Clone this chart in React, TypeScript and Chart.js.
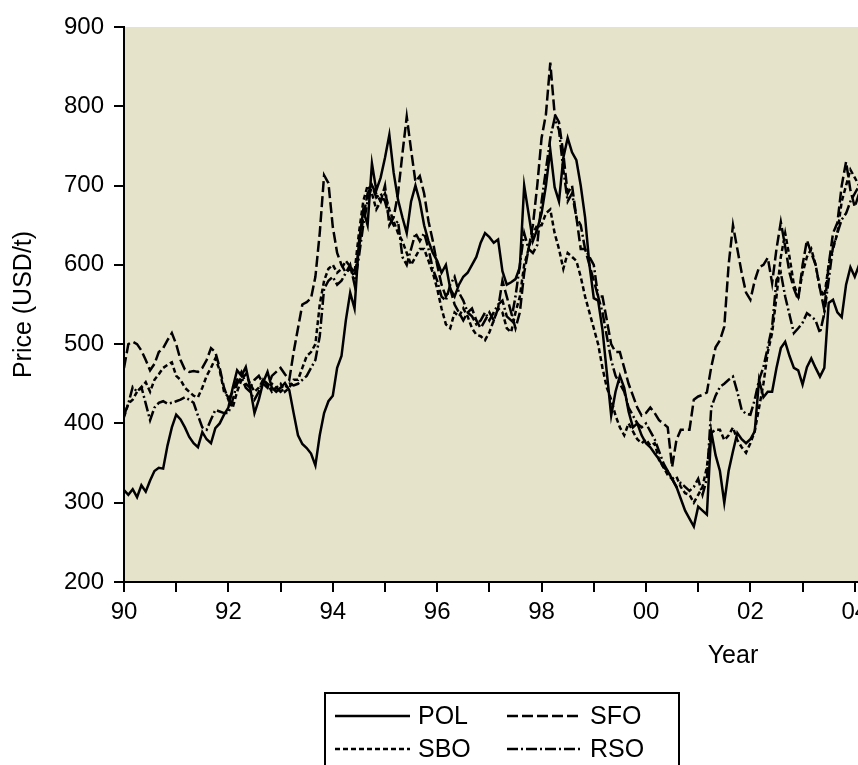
import React, { useEffect, useRef } from 'react';
import { Chart, registerables } from 'chart.js';

Chart.register(...registerables);

// ---- data (monthly, Jan 1990 onward) ----
const START_YEAR = 1990;
const X_MIN = 1990;
const X_MAX = 2004.33;
const Y_MIN = 200;
const Y_MAX = 900;
const Y_STEP = 100;
const SERIES_NAMES = ['POL', 'SFO', 'SBO', 'RSO'];

const POL = [
  316, 310, 317, 307, 322, 314, 328, 340, 344, 343, 372, 395,
  411, 405, 395, 383, 375, 370, 389, 380, 375, 394, 400, 411,
  420, 445, 467, 460, 471, 445, 413, 430, 452, 465, 445, 440,
  445, 451, 442, 413, 385, 374, 369, 362, 347, 385, 413, 428,
  435, 470, 485, 530, 565, 545, 628, 669, 650, 728, 694, 710,
  735, 764, 716, 682, 660, 640, 680, 700, 680, 650, 630, 615,
  605, 590, 600, 570, 560, 575, 585, 590, 600, 610, 628, 640,
  635, 628, 632, 592, 575, 578, 582, 597, 700, 665, 630, 645,
  665, 700, 745, 698, 680, 735, 760, 742, 732, 700, 660, 600,
  558, 555, 518, 464, 410, 440, 460, 445, 415, 395, 400, 385,
  375, 370, 362, 355, 345, 340, 330, 320, 305, 290, 280, 270,
  295, 290, 285, 390, 360, 340, 300, 340, 365, 388, 380, 375,
  380, 390, 455, 433, 440, 440, 470, 495, 503, 485, 470, 467,
  449, 471, 482, 470, 459, 470, 552, 556, 540, 534, 575, 597,
  585, 600, 610, 600,
];

const SFO = [
  470, 500, 503, 500, 492, 480, 467, 475, 490, 495, 505, 514,
  500, 480, 468, 465, 466, 465, 470, 480, 495, 490, 470, 445,
  430, 440, 455, 465, 450, 445, 455, 460, 450, 445, 460, 465,
  470, 462, 455, 490, 520, 550, 553, 558, 585, 640, 713, 703,
  648, 615, 600, 590, 595, 585, 620, 660, 690, 700, 690, 680,
  700, 650, 660, 690, 740, 787, 745, 705, 712, 690, 655, 630,
  600, 575, 560, 570, 550, 540, 530, 540, 545, 530, 520, 530,
  540, 530, 545, 580, 560, 540, 520, 540, 590, 620, 650, 700,
  760, 790, 855, 790, 780, 740, 690, 700, 660, 620, 620, 600,
  580, 560, 560, 530, 500, 490, 490, 470, 450, 435, 420, 410,
  413, 420, 413, 404, 400, 395, 345, 379, 392, 392, 392, 430,
  434, 436, 439, 471, 496, 505, 522, 600, 650, 620, 590, 565,
  556, 580, 597, 600, 609, 577, 620, 654, 623, 590, 570, 556,
  600, 631, 615, 600, 570, 543, 600, 640, 653, 700, 730, 694,
  673, 690, 700, 690,
];

const SBO = [
  408, 425, 430, 440, 445, 452, 440, 455, 462, 470, 474, 477,
  460, 455, 445, 440, 435, 433, 445, 460, 470, 482, 467, 440,
  433, 420, 440, 455, 462, 450, 440, 445, 455, 450, 440, 445,
  450, 440, 445, 455, 455, 470, 485, 490, 500, 550, 580, 595,
  600, 590, 595, 605, 598, 590, 640, 680, 700, 690, 670, 680,
  690, 670, 655, 640, 630, 615, 600, 610, 620, 620, 605, 590,
  570, 545, 525, 520, 540, 535, 545, 535, 520, 512, 510, 505,
  515, 530, 545, 540, 520, 515, 540, 560, 600, 620, 640, 650,
  650, 665, 670, 640, 620, 595, 615, 610, 605, 585, 560, 540,
  520, 500, 470, 445, 430, 410, 395, 385, 400, 390, 380, 375,
  380, 372, 375, 354, 345, 335, 330, 333, 320, 312, 310, 300,
  310, 320, 345, 388, 392, 392, 379, 385, 395, 379, 370, 363,
  375, 390, 420, 450, 490, 514, 560, 610, 640, 610, 575, 560,
  590, 610, 620, 600, 570, 560, 600, 620, 640, 680, 700, 720,
  710, 700, 690, 680,
];

const RSO = [
  410, 425, 446, 440, 446, 425, 404, 420, 426, 428, 425, 426,
  428, 430, 433, 430, 426, 410, 395, 392, 405, 417, 415, 413,
  413, 430, 450, 458, 445, 440, 430, 440, 455, 448, 450, 445,
  440, 445, 450, 448, 450, 455, 460, 470, 480, 510, 570, 580,
  585, 575, 580, 590, 600, 575, 610, 650, 680, 700, 685, 690,
  680, 660, 650, 655, 610, 600, 620, 640, 630, 640, 620, 595,
  580, 560, 555, 575, 585, 565, 555, 540, 535, 525, 530, 540,
  530, 540, 550, 555, 535, 530, 560, 600, 640, 620, 615, 625,
  680, 720, 760, 785, 770, 720, 680, 690, 660, 650, 620, 610,
  600, 560, 540, 510, 480, 460, 450, 440, 420, 410, 400, 395,
  400, 390, 380, 365, 350, 340, 330, 320, 325, 320, 315, 320,
  330, 310, 330, 420, 435, 446, 450, 455, 459, 440, 417, 412,
  411, 430, 455, 471, 496, 522, 581, 590, 560, 537, 514, 520,
  527, 539, 535, 530, 514, 539, 581, 623, 640, 657, 665, 680,
  690, 700, 705, 700,
];

const SERIES_VALUES = [POL, SFO, SBO, RSO];
const SERIES_DASH: number[][] = [[], [11, 4], [5, 3], [11, 3, 2, 3]];

const FONT = "'Liberation Sans', Arial, sans-serif";
const W = 880;
const H = 765;

const bgPlugin = {
  id: 'plotBg',
  beforeDraw(chart: any) {
    const { ctx, chartArea } = chart;
    ctx.save();
    ctx.fillStyle = '#e6e3cb';
    ctx.fillRect(chartArea.left, chartArea.top, chartArea.right - chartArea.left, chartArea.bottom - chartArea.top);
    ctx.restore();
  },
};

const extrasPlugin = {
  id: 'extras',
  afterDraw(chart: any) {
    const { ctx } = chart;
    ctx.save();
    // x-axis title
    ctx.fillStyle = '#000';
    ctx.font = `25px ${FONT}`;
    ctx.textAlign = 'center';
    ctx.textBaseline = 'middle';
    ctx.fillText('Year', 733, 656);

    // legend box
    ctx.strokeStyle = '#000';
    ctx.lineWidth = 2;
    ctx.strokeRect(325, 693, 354, 100);
    const ds = chart.data.datasets;
    const pos = [
      [335, 716],
      [507, 716],
      [335, 749],
      [507, 749],
    ];
    [0, 1, 2, 3].forEach((di, k) => {
      const d = ds[di];
      const [x, y] = pos[k];
      ctx.beginPath();
      ctx.setLineDash(d.borderDash || []);
      ctx.lineWidth = 2.5;
      ctx.moveTo(x, y);
      ctx.lineTo(x + 75, y);
      ctx.stroke();
      ctx.setLineDash([]);
      ctx.textAlign = 'left';
      ctx.fillText(d.label, x + 83, y + 1);
    });
    ctx.restore();
  },
};

export default function App() {
  const ref = useRef<HTMLCanvasElement>(null);

  useEffect(() => {
    if (!ref.current) return;
    const months = POL.map((_, i) => START_YEAR + i / 12);
    const chart = new Chart(ref.current, {
      type: 'line',
      data: {
        datasets: SERIES_NAMES.map((name, i) => ({
          label: name,
          data: SERIES_VALUES[i].map((v, j) => ({ x: months[j], y: v })),
          borderColor: '#000',
          borderWidth: 2.5,
          borderDash: SERIES_DASH[i],
          pointRadius: 0,
          tension: 0,
          fill: false,
        })),
      },
      options: {
        responsive: false,
        animation: false,
        events: [],
        layout: { padding: { left: 0, top: 27, right: 8, bottom: 83 } },
        plugins: { legend: { display: false }, tooltip: { enabled: false } },
        scales: {
          x: {
            type: 'linear',
            min: X_MIN,
            max: X_MAX,
            afterFit(scale: any) {
              scale.height = 100;
            },
            grid: { drawOnChartArea: false, drawTicks: true, tickLength: 10, color: '#000', lineWidth: 2 },
            border: { display: true, color: '#000', width: 2 },
            ticks: {
              stepSize: 1,
              autoSkip: false,
              maxRotation: 0,
              includeBounds: false,
              color: '#000',
              padding: 6,
              font: { family: FONT, size: 24 },
              callback: (v: any) => {
                const yr = Math.round(Number(v));
                return yr % 2 === 0 ? String(yr % 100).padStart(2, '0') : '';
              },
            },
          },
          y: {
            min: Y_MIN,
            max: Y_MAX,
            afterFit(scale: any) {
              scale.width = 124;
            },
            grid: { drawOnChartArea: false, drawTicks: true, tickLength: 10, color: '#000', lineWidth: 2 },
            border: { display: true, color: '#000', width: 2 },
            title: {
              display: true,
              text: 'Price (USD/t)',
              color: '#000',
              font: { family: FONT, size: 25 },
              padding: { top: 9, bottom: 0 },
            },
            ticks: {
              stepSize: Y_STEP,
              color: '#000',
              padding: 10,
              font: { family: FONT, size: 24 },
            },
          },
        },
      },
      plugins: [bgPlugin, extrasPlugin],
    } as any);
    return () => chart.destroy();
  }, []);

  return (
    <div style={{ position: 'fixed', left: 0, top: 0, width: 858, height: 765, overflow: 'hidden', background: '#fff' }}>
      <canvas ref={ref} width={W} height={H} style={{ width: W, height: H, display: 'block' }} />
    </div>
  );
}
